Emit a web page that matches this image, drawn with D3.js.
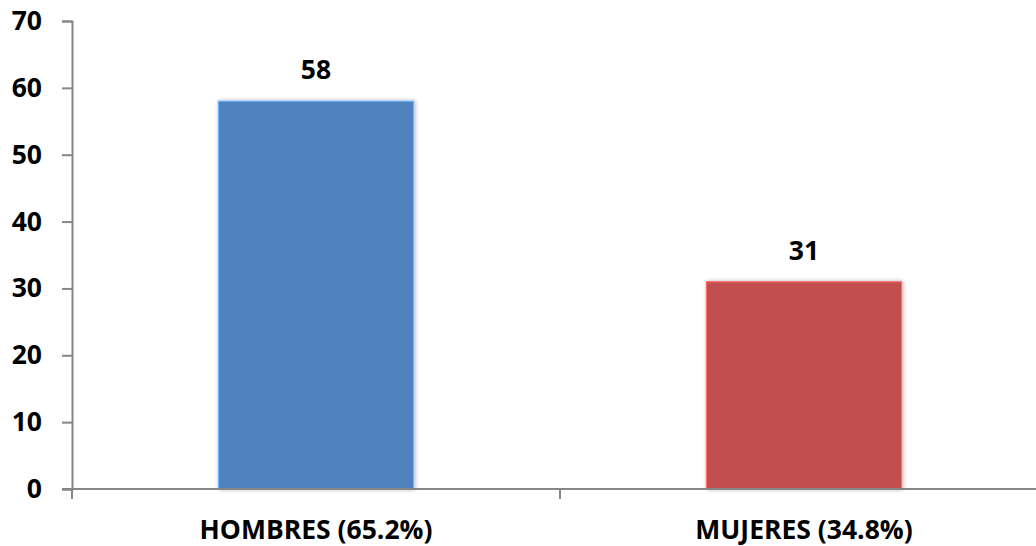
<!DOCTYPE html>
<html>
<head>
<meta charset="utf-8">
<script src="https://cdn.jsdelivr.net/npm/d3@7/dist/d3.min.js"></script>
<style>
  html, body { margin: 0; padding: 0; background: #fff; }
  svg { display: block; font-family: "Open Sans", "Liberation Sans", sans-serif; }
</style>
</head>
<body>
<svg id="chart" width="1036" height="546"></svg>
<script>
const categories = ["HOMBRES (65.2%)", "MUJERES (34.8%)"];
const values = [58, 31];
const colors = ["#4F81BD", "#C0504D"];
const yTicks = [0, 10, 20, 30, 40, 50, 60, 70];

const svg = d3.select("#chart");
const margin = { left: 72, top: 21, bottom: 57 };
const x0 = margin.left, x1 = 1048;
const yBottom = 546 - margin.bottom;
const fontSize = 26.5;

const x = d3.scaleBand().domain(categories).range([x0, x1]).paddingInner(0.6).paddingOuter(0.3);
const y = d3.scaleLinear().domain([0, 70]).range([yBottom, margin.top]);

const defs = svg.append("defs");
const f = defs.append("filter").attr("id", "shadow").attr("x", "-10%").attr("y", "-10%").attr("width", "120%").attr("height", "120%");
f.append("feGaussianBlur").attr("in", "SourceAlpha").attr("stdDeviation", 2.2).attr("result", "b");
f.append("feOffset").attr("dx", 1).attr("dy", 0).attr("result", "o");
f.append("feComponentTransfer").append("feFuncA").attr("type", "linear").attr("slope", 0.3);
const m = f.append("feMerge");
m.append("feMergeNode");
m.append("feMergeNode").attr("in", "SourceGraphic");

// bars
svg.append("g").selectAll("rect").data(values).join("rect")
  .attr("x", (d, i) => x(categories[i]))
  .attr("y", d => y(d))
  .attr("width", x.bandwidth())
  .attr("height", d => yBottom - y(d))
  .attr("fill", (d, i) => colors[i])
  .attr("stroke", (d, i) => d3.color(colors[i]).brighter(0.9))
  .attr("stroke-width", 1.2)
  .attr("filter", "url(#shadow)");

// value labels
svg.append("g").selectAll("text").data(values).join("text")
  .attr("x", (d, i) => x(categories[i]) + x.bandwidth() / 2)
  .attr("y", d => y(d) - 22)
  .attr("text-anchor", "middle")
  .attr("font-size", fontSize)
  .attr("font-weight", "bold")
  .attr("fill", "#000")
  .text(d => d);

// y axis
const yAxis = d3.axisLeft(y).tickValues(yTicks).tickSize(10).tickPadding(20);
const gy = svg.append("g").attr("transform", `translate(${x0},0)`).call(yAxis);
gy.select(".domain").attr("stroke", "#868686").attr("stroke-width", 2);
gy.selectAll(".tick line").attr("stroke", "#868686").attr("stroke-width", 2);
gy.selectAll(".tick text").attr("font-size", fontSize).attr("font-weight", "bold").attr("fill", "#000")
  .attr("font-family", "'Open Sans', 'Liberation Sans', sans-serif");

// x axis
const gx = svg.append("g").attr("transform", `translate(0,${yBottom})`);
gx.append("line").attr("x1", x0 - 10).attr("x2", 1036).attr("y1", 0).attr("y2", 0)
  .attr("stroke", "#868686").attr("stroke-width", 2);
const bounds = [x0, (x0 + x1) / 2];
gx.selectAll("line.tick").data(bounds).join("line").attr("class", "tick")
  .attr("x1", d => d).attr("x2", d => d).attr("y1", 0).attr("y2", 10)
  .attr("stroke", "#868686").attr("stroke-width", 2);
gx.selectAll("text").data(categories).join("text")
  .attr("x", d => x(d) + x.bandwidth() / 2)
  .attr("y", 50)
  .attr("text-anchor", "middle")
  .attr("font-size", fontSize)
  .attr("font-weight", "bold")
  .attr("fill", "#000")
  .text(d => d);
</script>
</body>
</html>
